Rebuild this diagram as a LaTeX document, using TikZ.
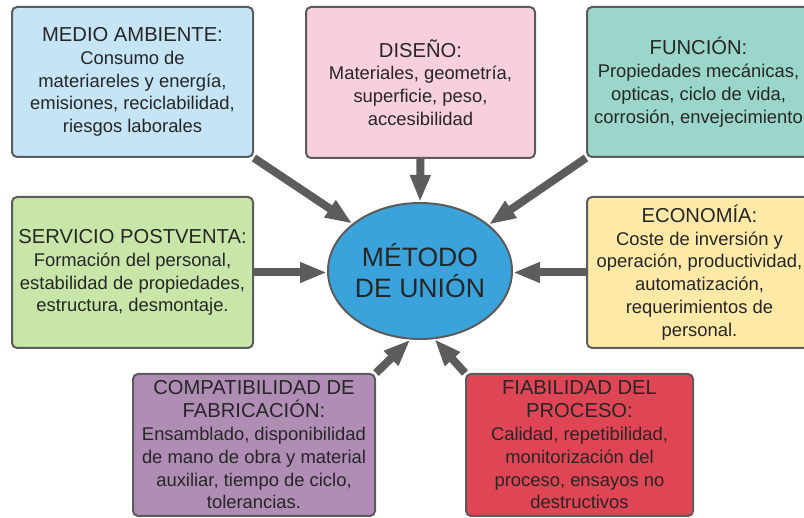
\documentclass[tikz,border=0pt]{standalone}
\usepackage{fontspec}
\setmainfont{Liberation Sans}
\usetikzlibrary{arrows.meta,shapes.geometric}
\definecolor{bord}{HTML}{5C5C5C}
\definecolor{txt}{HTML}{262626}
\definecolor{cblue}{HTML}{C5E4F6}
\definecolor{cpink}{HTML}{F8CFDD}
\definecolor{cteal}{HTML}{9AD6C9}
\definecolor{cgreen}{HTML}{C8E6A8}
\definecolor{cyellow}{HTML}{FFE9A6}
\definecolor{cpurple}{HTML}{AF8DB5}
\definecolor{cred}{HTML}{E04555}
\definecolor{cmain}{HTML}{3BA3DC}
\newcommand{\ttl}[1]{{\fontsize{20.2}{22.8}\selectfont #1}}
\begin{document}
\begin{tikzpicture}[x=1pt,y=1pt,
  infobox/.style={draw=bord, line width=2pt, rounded corners=5pt, align=center,
    text=txt, inner sep=2pt, font=\fontsize{18.4}{22.8}\selectfont},
  mainell/.style={ellipse, draw=bord, line width=2pt, fill=cmain, align=center,
    text=txt, minimum width=184pt, minimum height=136pt, inner sep=0pt,
    font=\fontsize{26.6}{31}\selectfont},
  conn/.style={draw=bord, line width=8pt,
    -{Triangle[length=27pt,width=19pt]}}
]
\clip (0,0) rectangle (804,518);
\node[infobox, fill=cblue, minimum width=241pt, minimum height=150pt] (b1) at (132.5,436)
  {\ttl{MEDIO AMBIENTE:}\\Consumo de\\materiareles y energía,\\emisiones, reciclabilidad,\\riesgos laborales};
\node[infobox, fill=cpink, minimum width=229pt, minimum height=151pt] (b2) at (420.5,435.5)
  {\ttl{DISEÑO:}\\Materiales, geometría,\\superficie, peso,\\accesibilidad};
\node[infobox, fill=cteal, minimum width=223pt, minimum height=150pt] (b3) at (698.5,436)
  {\ttl{FUNCIÓN:}\\Propiedades mecánicas,\\opticas, ciclo de vida,\\corrosión, envejecimiento};
\node[infobox, fill=cgreen, minimum width=241pt, minimum height=151pt] (b4) at (132.5,245.5)
  {\ttl{SERVICIO POSTVENTA:}\\Formación del personal,\\estabilidad de propiedades,\\estructura, desmontaje.};
\node[infobox, fill=cyellow, minimum width=225pt, minimum height=151pt] (b5) at (699.5,245.5)
  {\ttl{ECONOMÍA:}\\Coste de inversión y\\operación, productividad,\\automatización,\\requerimientos de\\personal.};
\node[infobox, fill=cpurple, minimum width=242pt, minimum height=142pt] (b6) at (254,73)
  {\ttl{COMPATIBILIDAD DE}\\\ttl{FABRICACIÓN:}\\Ensamblado, disponibilidad\\de mano de obra y material\\auxiliar, tiempo de ciclo,\\tolerancias.};
\node[infobox, fill=cred, minimum width=227pt, minimum height=142pt] (b7) at (579.5,73)
  {\ttl{FIABILIDAD DEL}\\\ttl{PROCESO:}\\Calidad, repetibilidad,\\monitorización del\\proceso, ensayos no\\destructivos};
\node[mainell] (m) at (420,247) {MÉTODO\\DE UNIÓN};
\draw[conn] (b1.south east) -- (m.145.5);
\draw[conn] (b2.south) -- (m.north);
\draw[conn] (b3.south west) -- (m.34.6);
\draw[conn] (b4.east) -- (b4.east -| m.west);
\draw[conn] (b5.west) -- (b5.west -| m.east);
\draw[conn] (b6.north east) -- (m.262);
\draw[conn] (b7.north west) -- (m.282);
\end{tikzpicture}
\end{document}
